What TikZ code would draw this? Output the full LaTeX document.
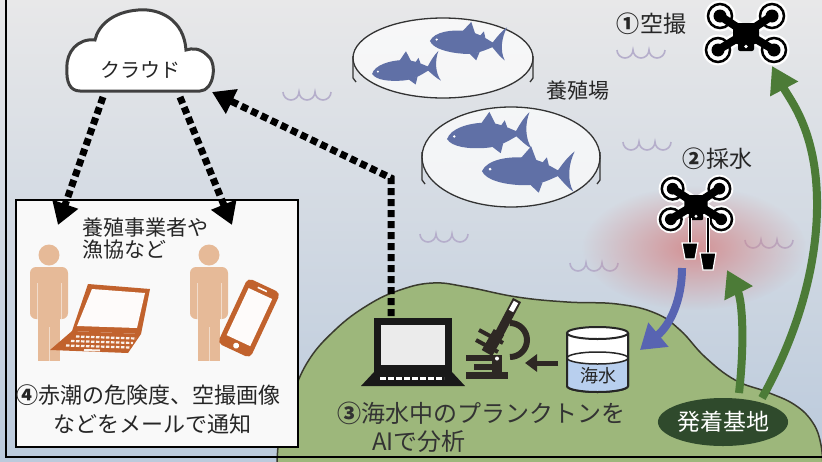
\documentclass[tikz,border=0pt]{standalone}
\usepackage{fontspec}
\setmainfont{Noto Sans CJK JP}
\usetikzlibrary{arrows.meta, shapes.geometric, fadings}

\definecolor{skytop}{HTML}{E8E8E9}
\definecolor{skybot}{HTML}{BBCADC}
\definecolor{land}{HTML}{9DB77B}
\definecolor{landline}{HTML}{3A3B2E}
\definecolor{liftgreen}{HTML}{4C7B37}
\definecolor{basefill}{HTML}{2F4A2C}
\definecolor{sampleblue}{HTML}{5864B2}
\definecolor{fishblue}{HTML}{6070A6}
\definecolor{skin}{HTML}{E6BA98}
\definecolor{rust}{HTML}{C1622D}
\definecolor{scopecol}{HTML}{2E2824}
\definecolor{wavecol}{HTML}{B5AECB}
\definecolor{water}{HTML}{B8CFEE}
\definecolor{haze}{HTML}{D47F80}

\tikzfading[name=hazefade, inner color=transparent!0, outer color=transparent!100]

\begin{document}
\begin{tikzpicture}[x=1pt, y=-1pt,
    jp/.style={inner sep=0pt, text=black!85, font=\fontsize{22}{26}\selectfont},
    flow/.style={line width=7pt, dash pattern=on 7pt off 4pt, -{Triangle[width=26pt,length=22pt]}},
    lift/.style={line width=8pt, draw=liftgreen, -{Triangle[width=30pt,length=26pt]}},
    sample/.style={line width=8pt, draw=sampleblue, -{Triangle[width=30pt,length=24pt]}},
    pen/.style={draw=black!80, line width=1.3pt, fill=white, fill opacity=0.7},
    wave/.pic={\draw[wavecol, line width=1.6pt] (0,0) arc (180:0:8) arc (180:0:8) arc (180:0:8);},
    tuna/.pic={
      \fill[fishblue] (0,1) .. controls (4,-9) and (22,-13) .. (38,-12)
        .. controls (50,-11) and (58,-6) .. (66,-2)
        .. controls (70,-8) and (74,-14) .. (80,-19)
        .. controls (75,-8) and (74,6) .. (80,16)
        .. controls (74,12) and (70,7) .. (66,3)
        .. controls (56,8) and (48,12) .. (36,12)
        .. controls (20,12) and (4,9) .. (0,1) -- cycle;
      \fill[fishblue] (33,-11) -- (42,-22) -- (47,-10) -- cycle;
      \fill[fishblue] (52,-8) -- (56,-13) -- (58,-6) -- cycle;
      \fill[fishblue] (42,11) -- (50,18) -- (53,9) -- cycle;
      \fill[white] (7,-1) circle (1.3);
    },
    drone/.pic={
      \foreach \a/\b in {-26/-17, 26/-17, -28/17, 28/17} {
        \fill[white] (\a,\b) circle (15.5);
        \draw[white, line width=13pt] (0,0) -- (\a,\b);
      }
      \foreach \a/\b in {-26/-17, 26/-17, -28/17, 28/17} {
        \draw[black, line width=2.5pt, fill=white] (\a,\b) circle (12);
        \fill[black] (\a,\b) circle (6.5);
        \draw[black, line width=8pt] (0,0) -- (\a,\b);
      }
      \fill[black, rounded corners=4pt] (-13,-10) rectangle (13,11);
      \fill[black, rounded corners=2pt] (-8,9) rectangle (8,18);
      \fill[white] (0,13.5) circle (1.8);
    },
    person/.pic={
      \fill[skin] (0,0) circle (10.5);
      \fill[skin, rounded corners=6pt] (-19,12) rectangle (19,64);
      \fill[skin] (-11,55) rectangle (11,106);
      \draw[white, opacity=0.5, line width=0.8pt] (-12,28) -- (-12,64) (12,28) -- (12,64) (0,72) -- (0,106);
    }]

\useasboundingbox (0,0) rectangle (822,461);
\shade[top color=skytop, bottom color=skybot] (0,0) rectangle (822,461);

% ripples on the sea
\foreach \wx/\wy in {283/92, 617/50, 623/142, 420/234, 570/263, 745/240}
  \pic at (\wx,\wy) {wave};

% red tide patch
\fill[haze, path fading=hazefade, fill opacity=0.8] (694,248) ellipse (112 and 62);

% fish pens
\draw[pen] (443,58) ellipse (90 and 40);
\draw[black!80, line width=1.3pt] (353,56) -- (353,78) to[bend left=20] (356,82)
  (533,56) -- (533,78) to[bend right=20] (530,82);
\pic[scale=0.95, rotate=-4] at (430,40) {tuna};
\pic[scale=0.85, rotate=5] at (372,73) {tuna};
\draw[pen] (511,157) ellipse (89 and 50);
\draw[black!80, line width=1.3pt] (422,152) -- (422,180) to[bend left=20] (425,184)
  (600,152) -- (600,180) to[bend right=20] (597,184);
\pic[scale=1.05, rotate=4] at (447,138) {tuna};
\pic[scale=1.15, rotate=-2] at (482,170) {tuna};
\node[jp, font=\fontsize{21}{24}\selectfont] (farm) at (578,91) {養殖場};

% island
\filldraw[fill=land, draw=landline, line width=1.5pt] plot[smooth, tension=0.7] coordinates {(277,470) (279,440) (289,406) (307,363) (335,330) (368,305) (400,290) (433,283) (467,287) (517,297) (567,302) (617,304) (655,313) (680,330) (705,357) (735,380) (767,392) (795,405) (813,423) (821,445) (823,470)} -- cycle;

% cloud
\draw[draw=black!75, line width=3pt, fill=white] (80,91) -- (200,91)
  .. controls (214,91) and (218,62) .. (207,55) .. controls (200,48) and (192,48) .. (186,50)
  .. controls (184,20) and (160,8) .. (138,10) .. controls (112,12) and (98,26) .. (95,40)
  .. controls (78,38) and (66,52) .. (67,68) .. controls (66,82) and (70,91) .. (80,91) -- cycle;
\node[jp, font=\fontsize{20}{24}\selectfont] (cloud) at (140,70) {クラウド};

% users panel
\node[draw=black, line width=1.8pt, fill=white!95!gray, minimum width=282pt, minimum height=247pt, inner sep=0pt] (usersbox) at (157,323.5) {};
\node[jp, font=\fontsize{21}{22}\selectfont, anchor=west, align=left] (users) at (82,239) {養殖事業者や\\漁協など};
\pic at (49,255) {person};
\pic at (209,255) {person};
% notebook
\fill[rust] (88,284) -- (150,289) -- (141,334) -- (72,331) -- cycle;
\fill[white!95!skin] (92,289) -- (145,293) -- (137,328) -- (77,326) -- cycle;
\fill[rust] (72,331) -- (141,334) -- (128,353) -- (50,350) -- cycle;
\draw[white!80!skin, line width=2.2pt, dash pattern=on 3.5pt off 1.5pt]
  (76,336.5) -- (136,338.5) (71,341) -- (133,343) (66,345.5) -- (130,347.5);
\draw[white!80!skin, line width=2pt] (84,350) -- (100,350.5);
% smartphone
\begin{scope}[shift={(249,318)}, rotate=-25]
  \fill[rust, rounded corners=5pt] (-18,-36) rectangle (18,36);
  \fill[white!95!skin] (-13,-27) rectangle (13,25);
  \fill[white] (0,30.5) circle (3);
  \draw[white, line width=1.6pt] (-5,-31.5) -- (5,-31.5);
\end{scope}
\node[jp, anchor=west] (note1) at (16,395) {{\bfseries ④}赤潮の危険度、空撮画像};
\node[jp, anchor=west] (note2) at (53,424) {などをメールで通知};

% notebook on the island
\fill[black!90] (374,318) rectangle (452,372);
\fill[black!8] (381,325) rectangle (445,365);
\fill[black!90] (374,372) -- (452,372) -- (465,386) -- (361,386) -- cycle;
\draw[white, line width=3pt, dash pattern=on 6pt off 2pt] (380,378) -- (444,378);
\coordinate (pc) at (391,316);

% microscope
\fill[scopecol] (466,372) rectangle (508,379);
\fill[scopecol] (492,356) rectangle (502,378);
\fill[scopecol] (466,355) rectangle (502,361);
\fill[scopecol] (474,364) rectangle (494,370);
\draw[scopecol, line width=6pt] (510,340) ++(-90:17) arc (-90:90:17);
\draw[scopecol, line width=9pt] (517,300) -- (497,338);
\draw[white, line width=5pt] (516,302) -- (511,311);
\draw[scopecol, line width=12pt] (499,332) -- (487,353);
\draw[scopecol, line width=4pt] (479,330) -- (503,343) (476,340) -- (498,352);
\fill[white] (497,358.5) circle (2);
\coordinate (scope) at (525,363);

% sea water sample
\draw[black!85, line width=2pt, fill=white] (567,333) -- (567,386) arc (180:0:30.5 and 6) -- (628,333);
\fill[water] (567,358) -- (567,386) arc (180:0:30.5 and 6) -- (628,358) arc (0:180:30.5 and 6);
\draw[black!85, line width=1.5pt] (597.5,358) ellipse (30.5 and 6);
\draw[black!85, line width=2pt] (567,333) -- (567,386) arc (180:0:30.5 and 6) -- (628,333);
\draw[black!85, line width=2pt, fill=white] (597.5,333) ellipse (30.5 and 6);
\node[jp, font=\fontsize{18}{20}\selectfont] (sea) at (598,376) {海水};
\coordinate (seaW) at (558,363);

% landing base
\node[ellipse, fill=basefill, minimum width=120pt, minimum height=48pt, inner sep=0pt, text=white, font=\fontsize{23}{26}\selectfont] (base) at (723,422) {発着基地};
\coordinate (baseA) at (762,398);
\coordinate (baseB) at (739,393);

% drones
\pic at (746,33) {drone};
\pic[scale=0.9] at (696,204) {drone};
\draw[white, line width=4pt] (690,218) -- (690,244) (708,218) -- (708,254);
\draw[black, line width=2pt] (690,218) -- (690,244) (708,218) -- (708,254);
\filldraw[fill=black, draw=white, line width=1.2pt] (682,243) -- (698,243) -- (695,259) -- (685,259) -- cycle;
\filldraw[fill=black, draw=white, line width=1.2pt] (700,253) -- (716,253) -- (713,270) -- (703,270) -- cycle;
\coordinate (drone1) at (772,66);
\coordinate (drone2) at (727,270);
\coordinate (sampler) at (682,268);
\coordinate (jar) at (640,350);

\node[jp, font=\fontsize{23}{26}\selectfont, anchor=west] (shot) at (616,24) {{\bfseries ①}\hspace{1pt}空撮};
\node[jp, font=\fontsize{23}{26}\selectfont, anchor=west] (draw) at (682,159) {{\bfseries ②}\hspace{1pt}採水};

% flights and sample route
\draw[lift] (baseA) .. controls (800,330) and (818,260) .. (817,200) .. controls (816,130) and (790,100) .. (drone1);
\draw[lift] (baseB) .. controls (745,340) and (742,300) .. (drone2);
\draw[sample] (sampler) .. controls (682,300) and (670,325) .. (jar);
\draw[line width=5pt, draw=scopecol, -{Triangle[width=17pt,length=12pt]}] (seaW) -- (scope);

% data flow
\coordinate (cloudL) at (103,97);
\coordinate (cloudR) at (180,97);
\coordinate (cloudE) at (212,92);
\coordinate (boxL) at (58,225);
\coordinate (boxR) at (232,225);
\coordinate (bend) at (391,178);
\draw[flow] (cloudL) -- (boxL);
\draw[flow] (cloudR) -- (boxR);
\draw[flow] (pc) -- (bend) -- (cloudE);

\node[jp, font=\fontsize{24}{26}\selectfont, anchor=west, text=black!80] (ai1) at (337,413) {{\bfseries ③}海水中のプランクトンを};
\node[jp, font=\fontsize{24}{26}\selectfont, anchor=west, text=black!80] (ai2) at (372,441) {AIで分析};

% frame
\draw[line width=1.5pt] (6,0) -- (6,457) -- (822,457);
\end{tikzpicture}
\end{document}
